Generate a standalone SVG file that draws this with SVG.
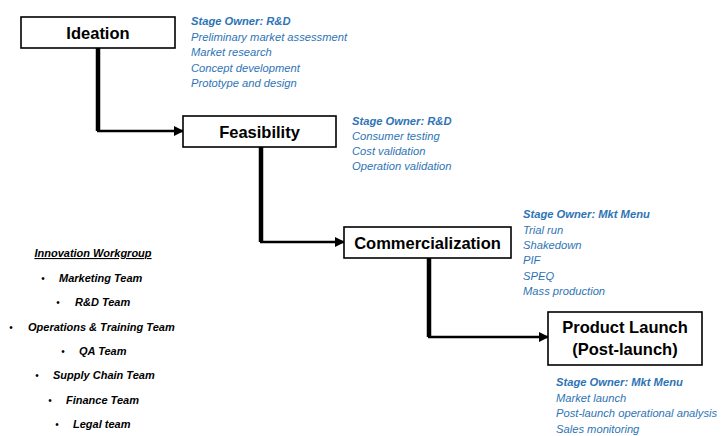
<svg xmlns="http://www.w3.org/2000/svg" width="725" height="436" viewBox="0 0 725 436">
<style>
.box{fill:#fff;stroke:#000;stroke-width:1.6}
.title{font-family:"Liberation Sans",Arial,sans-serif;font-weight:bold;font-size:16.5px;fill:#000;text-anchor:middle}
.note{font-family:"Liberation Sans",Arial,sans-serif;font-style:italic;font-size:11.2px;fill:#2E74B5}
.note .b{font-weight:bold}
.v{stroke:#000;stroke-width:4.5;fill:none}
.h{stroke:#000;stroke-width:2.5;fill:none}
.wg{font-family:"Liberation Sans",Arial,sans-serif;font-style:italic;font-weight:bold;font-size:11px;fill:#000}
.bul{font-family:"Liberation Sans",Arial,sans-serif;font-size:10px;fill:#000}
</style>
<defs>
<marker id="arr" markerWidth="4" markerHeight="4" refX="3.6" refY="2" orient="auto" markerUnits="strokeWidth">
<path d="M0,0 L4,2 L0,4 Z" fill="#000"/>
</marker>
</defs>
<g id="connectors">
<path class="v" d="M98,48 V131"/>
<path class="h" d="M97,131 H183" marker-end="url(#arr)"/>
<path class="v" d="M261,147 V242"/>
<path class="h" d="M260,242 H344" marker-end="url(#arr)"/>
<path class="v" d="M429,258 V337"/>
<path class="h" d="M428,337 H548" marker-end="url(#arr)"/>
</g>
<g id="ideation">
<rect class="box" x="21" y="17" width="154" height="31"/>
<text class="title" x="98" y="39">Ideation</text>
</g>
<g id="ideation-notes" class="note">
<text x="191" y="25" class="b">Stage Owner: R&amp;D</text>
<text x="191" y="41">Preliminary market assessment</text>
<text x="191" y="56">Market research</text>
<text x="191" y="72">Concept development</text>
<text x="191" y="87">Prototype and design</text>
</g>
<g id="feasibility">
<rect class="box" x="183" y="116" width="153" height="31"/>
<text class="title" x="259.5" y="138">Feasibility</text>
</g>
<g id="feasibility-notes" class="note">
<text x="352" y="125" class="b">Stage Owner: R&amp;D</text>
<text x="352" y="140">Consumer testing</text>
<text x="352" y="155">Cost validation</text>
<text x="352" y="170">Operation validation</text>
</g>
<g id="commercialization">
<rect class="box" x="344" y="227" width="167" height="31"/>
<text class="title" x="427.5" y="249">Commercialization</text>
</g>
<g id="commercialization-notes" class="note">
<text x="523" y="218" class="b">Stage Owner: Mkt Menu</text>
<text x="523" y="234">Trial run</text>
<text x="523" y="249">Shakedown</text>
<text x="523" y="264">PIF</text>
<text x="523" y="280">SPEQ</text>
<text x="523" y="295">Mass production</text>
</g>
<g id="product-launch">
<rect class="box" x="548" y="312" width="154" height="53"/>
<text class="title" x="625" y="333">Product Launch</text>
<text class="title" x="625" y="355">(Post-launch)</text>
</g>
<g id="product-launch-notes" class="note">
<text x="556" y="386" class="b">Stage Owner: Mkt Menu</text>
<text x="556" y="402">Market launch</text>
<text x="556" y="417">Post-launch operational analysis</text>
<text x="556" y="433">Sales monitoring</text>
</g>
<g id="innovation-workgroup">
<text class="wg" x="93" y="257" text-anchor="middle" text-decoration="underline">Innovation Workgroup</text>
<text class="bul" x="43" y="282" text-anchor="middle">•</text><text class="wg" x="59" y="282">Marketing Team</text>
<text class="bul" x="58" y="306" text-anchor="middle">•</text><text class="wg" x="75" y="306">R&amp;D Team</text>
<text class="bul" x="11" y="331" text-anchor="middle">•</text><text class="wg" x="28" y="331">Operations &amp; Training Team</text>
<text class="bul" x="63" y="355" text-anchor="middle">•</text><text class="wg" x="79" y="355">QA Team</text>
<text class="bul" x="37" y="379" text-anchor="middle">•</text><text class="wg" x="53" y="379">Supply Chain Team</text>
<text class="bul" x="50" y="404" text-anchor="middle">•</text><text class="wg" x="66" y="404">Finance Team</text>
<text class="bul" x="57" y="428" text-anchor="middle">•</text><text class="wg" x="73" y="428">Legal team</text>
</g>
</svg>
